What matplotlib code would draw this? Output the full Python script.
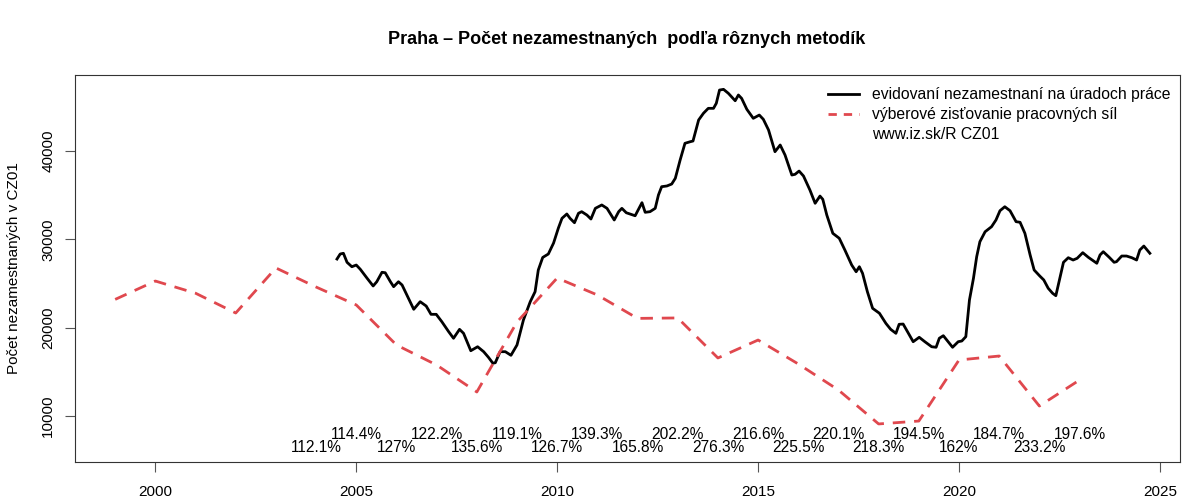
import matplotlib
matplotlib.use("Agg")
import matplotlib.pyplot as plt
from matplotlib.lines import Line2D

plt.rcParams['font.family'] = ['Liberation Sans', 'DejaVu Sans']

# Registered unemployed (black line) - decimal year, count
reg_years = [2004.52, 2004.60, 2004.68, 2004.77, 2004.89, 2005.00, 2005.10, 2005.27, 2005.42, 2005.51,
             2005.64, 2005.72, 2005.85, 2005.93, 2006.05, 2006.14, 2006.28, 2006.43, 2006.59, 2006.74,
             2006.86, 2006.99, 2007.13, 2007.30, 2007.42, 2007.57, 2007.67, 2007.85, 2008.02, 2008.17,
             2008.29, 2008.40, 2008.46, 2008.58, 2008.71, 2008.85, 2009.00, 2009.16, 2009.33, 2009.45,
             2009.53, 2009.64, 2009.78, 2009.91, 2010.03, 2010.12, 2010.24, 2010.32, 2010.43, 2010.53,
             2010.61, 2010.74, 2010.84, 2010.95, 2011.11, 2011.24, 2011.42, 2011.53, 2011.61, 2011.72,
             2011.94, 2012.11, 2012.19, 2012.31, 2012.44, 2012.52, 2012.60, 2012.73, 2012.85, 2012.94,
             2013.06, 2013.18, 2013.31, 2013.38, 2013.52, 2013.64, 2013.76, 2013.89, 2013.96, 2014.04,
             2014.14, 2014.26, 2014.43, 2014.51, 2014.59, 2014.72, 2014.88, 2015.03, 2015.13, 2015.26,
             2015.42, 2015.55, 2015.67, 2015.84, 2015.92, 2016.02, 2016.13, 2016.29, 2016.42, 2016.54,
             2016.61, 2016.71, 2016.86, 2017.02, 2017.16, 2017.33, 2017.44, 2017.52, 2017.60, 2017.72,
             2017.85, 2018.02, 2018.18, 2018.30, 2018.43, 2018.51, 2018.61, 2018.74, 2018.86, 2019.01,
             2019.15, 2019.32, 2019.43, 2019.51, 2019.61, 2019.73, 2019.84, 2019.98, 2020.07, 2020.17,
             2020.26, 2020.36, 2020.44, 2020.52, 2020.65, 2020.81, 2020.92, 2021.02, 2021.14, 2021.27,
             2021.42, 2021.52, 2021.64, 2021.77, 2021.87, 2022.01, 2022.11, 2022.22, 2022.33, 2022.41,
             2022.50, 2022.60, 2022.72, 2022.84, 2022.94, 2023.08, 2023.22, 2023.43, 2023.51, 2023.59,
             2023.74, 2023.86, 2023.92, 2024.05, 2024.17, 2024.30, 2024.42, 2024.50, 2024.60, 2024.75]
reg_values = [27770, 28340, 28420, 27400, 26900, 27090, 26610, 25590, 24720, 25200,
              26270, 26220, 25200, 24640, 25200, 24830, 23500, 22080, 22940, 22450,
              21510, 21510, 20670, 19540, 18800, 19810, 19360, 17390, 17840, 17280,
              16640, 15970, 16030, 17280, 17280, 16870, 18040, 20870, 22940, 24070,
              26530, 27950, 28340, 29580, 31280, 32380, 32870, 32380, 31880, 32950,
              33130, 32750, 32300, 33510, 33890, 33510, 32190, 33130, 33510, 33010,
              32670, 34150, 33060, 33130, 33510, 35020, 35960, 36040, 36260, 36910,
              38980, 40870, 41050, 41130, 43510, 44270, 44830, 44830, 45400, 46900,
              46980, 46530, 45690, 46340, 45960, 44720, 43700, 44070, 43590, 42380,
              39920, 40680, 39550, 37280, 37360, 37730, 37170, 35580, 34080, 34900,
              34530, 32750, 30680, 30120, 28790, 27090, 26330, 26900, 26150, 24070,
              22190, 21630, 20490, 19810, 19360, 20380, 20410, 19360, 18410, 18910,
              18410, 17840, 17780, 18800, 19090, 18410, 17780, 18410, 18490, 18980,
              23130, 25590, 28030, 29730, 30860, 31430, 32190, 33240, 33690, 33240,
              32000, 31930, 30680, 28230, 26530, 25850, 25400, 24460, 23890, 23620,
              25400, 27400, 27920, 27660, 27850, 28490, 27960, 27290, 28230, 28600,
              27960, 27400, 27470, 28110, 28110, 27920, 27660, 28790, 29240, 28420]

# Labour force survey (red dashed) - annual
lfs_years = list(range(1999, 2024))
lfs_values = [23200, 25280, 23900, 21660, 26760, 24600, 22570, 18040, 15770, 12720,
              20640, 25620, 23700, 21050, 21100, 16570, 18600, 15890, 12940, 9100,
              9430, 16340, 16790, 11130, 14075]

# Ratio labels
ratio_years = list(range(2004, 2024))
ratio_labels = ["112.1%", "114.4%", "127%", "122.2%", "135.6%", "119.1%", "126.7%", "139.3%",
                "165.8%", "202.2%", "276.3%", "216.6%", "225.5%", "220.1%", "218.3%", "194.5%",
                "162%", "184.7%", "233.2%", "197.6%"]

title = "Praha \u2013 Počet nezamestnaných  podľa rôznych metodík"
ylabel = "Počet nezamestnaných v CZ01"
legend_labels = ["evidovaní nezamestnaní na úradoch práce",
                 "výberové zisťovanie pracovných síl",
                 "www.iz.sk/R CZ01"]
red = "#E0484E"

fig = plt.figure(figsize=(12, 5), dpi=100)
ax = fig.add_axes([75/1200, 38/500, 1105/1200, 387/500])

ax.plot(reg_years, reg_values, color="black", lw=2.0, solid_joinstyle="round")
ax.plot(lfs_years, lfs_values, color=red, lw=2.0, dashes=(4.5, 3.2))

for yr, lab in zip(ratio_years, ratio_labels):
    yv = 7850 if yr % 2 == 1 else 6380
    ax.text(yr, yv, lab, ha="center", va="center", fontsize=11.2)

ax.set_xlim(1998.0, 2025.5)
ax.set_ylim(4792, 48604)
ax.set_xticks([2000, 2005, 2010, 2015, 2020, 2025])
ax.set_yticks([10000, 20000, 30000, 40000])
ax.set_yticklabels(["10000", "20000", "30000", "40000"], rotation=90, va="center")
ax.tick_params(axis="both", direction="out", length=7.2, width=0.8, labelsize=11,
               color="#555555")
ax.tick_params(axis="x", pad=9.0)
ax.tick_params(axis="y", pad=7.0)
for s in ax.spines.values():
    s.set_linewidth(0.8)
    s.set_color("#333333")

ax.set_ylabel(ylabel, fontsize=11)
ax.yaxis.set_label_coords(-0.049, 0.5)
fig.text(627/1200, 1 - 40/500, title, ha="center", va="center", fontsize=13, fontweight="bold")

handles = [Line2D([], [], color="black", lw=2.0),
           Line2D([], [], color=red, lw=2.0, dashes=(3, 2.5)),
           Line2D([], [], color="none")]
ax.legend(handles, legend_labels, loc="upper left", bbox_to_anchor=(0.681, 0.968),
          frameon=False, fontsize=11.3, borderpad=0, borderaxespad=0,
          handlelength=2.0, handletextpad=0.85, labelspacing=0.3)

fig.savefig("out.png", dpi=100)
